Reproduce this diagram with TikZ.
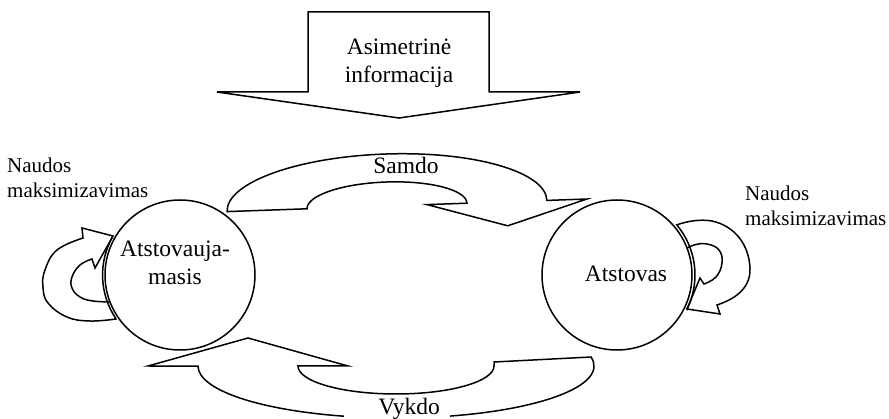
\documentclass[tikz,border=0pt]{standalone}
\usepackage{fontspec}
\setmainfont{Liberation Serif}
\begin{document}
\begin{tikzpicture}[x=1pt,y=-1pt,
  outline/.style={draw=black, line width=1.5pt, line join=miter},
  circ/.style={circle, draw=black, fill=white, minimum size=150pt, inner sep=0pt, line width=1.5pt},
  lab/.style={font=\fontsize{23.5}{28}\selectfont, inner sep=0pt},
  small/.style={font=\fontsize{21}{24.5}\selectfont, inner sep=0pt, align=left}]
\useasboundingbox (0,0) rectangle (889,419);

% top block arrow
\draw[outline] (308,12) -- (489,12) -- (489,92) -- (580,92) -- (399,118) -- (217,92) -- (308,92) -- cycle;
\node[lab, align=center] (asi) at (399,63) {Asimetrinė\\informacija};

% Samdo curved arrow
\begin{scope}[rotate around={2:(387,206)}]
\draw[outline] (307,206) -- (227,206) arc[start angle=180, end angle=360, x radius=160, y radius=52]
  -- (587,206) -- (507,230) -- (427,206) -- (467,206)
  arc[start angle=360, end angle=180, x radius=80, y radius=24] -- cycle;
\end{scope}
\node[lab, anchor=base] (samdo) at (406,174) {Samdo};

% Vykdo curved arrow
\draw[outline] (248,338) -- (348,366) -- (298,366)
  arc[start angle=180, end angle=0, x radius=98, y radius=28]
  -- (494,362) -- (591,357)
  arc[start angle=-10, end angle=180, x radius=198, y radius=52]
  -- (148,366) -- cycle;
\node[lab, anchor=base east, fill=white, inner xsep=10pt, inner ysep=2pt] (vykdo) at (450,415) {\hspace*{24pt}Vykdo};

% left self loop
\draw[outline] (82,228) -- (113,236) arc[start angle=210, end angle=146, radius=78]
  -- plot[smooth, tension=0.7] coordinates {(116,319) (90,321) (67,317) (48,303) (43,287) (45,270) (57,250) (83,238)} -- cycle;
\draw[outline] (113,236) -- (95,268) -- (92,259)
  -- plot[smooth, tension=0.7] coordinates {(92,259) (80,265) (72,277) (72,288) (80,297) (93,301) (113,302)};

% right self loop
\draw[outline] (687,309) -- (720,314) -- (717,305)
  .. controls (732,300) and (751,290) .. (750,268)
  .. controls (749,245) and (735,226) .. (712,221)
  .. controls (700,219) and (688,221) .. (676.75,224.85)
  arc[start angle=-40, end angle=26, radius=78] -- cycle;
\draw[outline] (687,309) -- (700,278) -- (704,284)
  -- plot[smooth, tension=0.7] coordinates {(704,284) (716,277) (722,263) (719,250) (707,244) (694,245) (684,250)};

% circles
\node[circ] (P) at (180,275) {};
\node[circ] (A) at (617,275) {};
\node[lab, align=center] (Plab) at (175,263) {Atstovauja-\\masis};
\node[lab, anchor=base] (Alab) at (626,282) {Atstovas};

% side labels
\node[small, anchor=north west] (nl) at (7,158) {Naudos\\maksimizavimas};
\node[small, anchor=north west] (nr) at (745,186) {Naudos\\maksimizavimas};
\end{tikzpicture}
\end{document}
